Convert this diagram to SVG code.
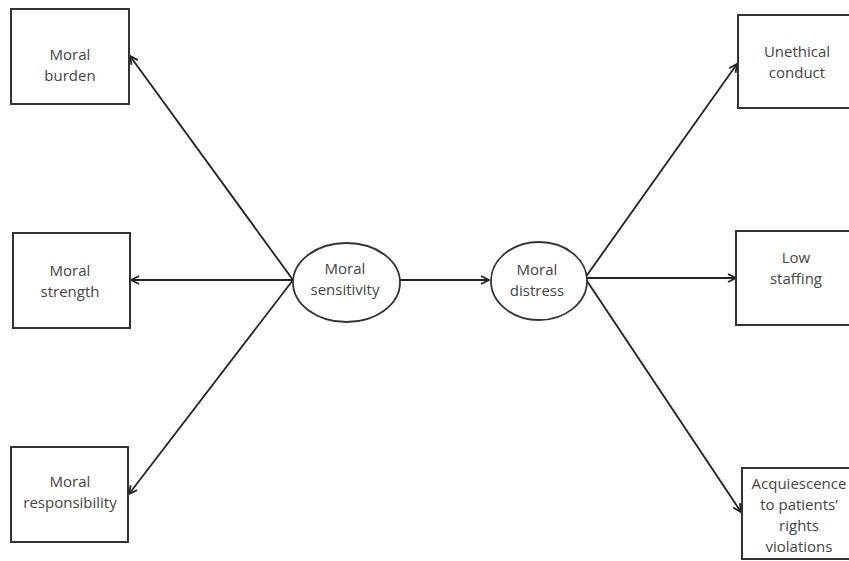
<svg xmlns="http://www.w3.org/2000/svg" width="849" height="561" viewBox="0 0 849 561">
<style>
.box{fill:#fff;stroke:#333;stroke-width:2}
.ell{fill:#fff;stroke:#333;stroke-width:1.8}
.t{font-family:"Open Sans","Liberation Sans",sans-serif;font-size:15px;fill:#444;text-anchor:middle}
.c{stroke:#222;stroke-width:1.8;fill:none;marker-end:url(#ah)}
</style>
<defs>
<marker id="ah" viewBox="0 0 10 10" refX="9" refY="5" markerWidth="10" markerHeight="10" markerUnits="userSpaceOnUse" orient="auto">
<path d="M1,1 L9,5 L1,9" fill="none" stroke="#222" stroke-width="1.8"/>
</marker>
</defs>
<rect width="849" height="561" fill="#fff"/>
<g id="connectors">
<line class="c" x1="293" y1="280" x2="130" y2="56"/>
<line class="c" x1="293" y1="280" x2="131" y2="280"/>
<line class="c" x1="293" y1="280" x2="129" y2="494"/>
<line class="c" x1="400" y1="280" x2="489" y2="280"/>
<line class="c" x1="585" y1="278" x2="737" y2="64"/>
<line class="c" x1="585" y1="278" x2="736" y2="278"/>
<line class="c" x1="585" y1="278" x2="741" y2="512"/>
</g>
<g id="moral-burden">
<rect class="box" x="11" y="9" width="118" height="95"/>
<text class="t" x="70" y="60">Moral</text>
<text class="t" x="70" y="81">burden</text>
</g>
<g id="moral-strength">
<rect class="box" x="13" y="233" width="117" height="95"/>
<text class="t" x="70" y="276">Moral</text>
<text class="t" x="70" y="297">strength</text>
</g>
<g id="moral-responsibility">
<rect class="box" x="11" y="447" width="117" height="95"/>
<text class="t" x="70" y="487">Moral</text>
<text class="t" x="70" y="508">responsibility</text>
</g>
<g id="moral-sensitivity">
<ellipse class="ell" cx="346.5" cy="282.5" rx="53.5" ry="39.5"/>
<text class="t" x="345" y="274">Moral</text>
<text class="t" x="345" y="295">sensitivity</text>
</g>
<g id="moral-distress">
<ellipse class="ell" cx="539" cy="281" rx="48" ry="39"/>
<text class="t" x="537" y="275">Moral</text>
<text class="t" x="537" y="296">distress</text>
</g>
<g id="unethical-conduct">
<rect class="box" x="738" y="15" width="120" height="93"/>
<text class="t" x="797" y="57">Unethical</text>
<text class="t" x="797" y="78">conduct</text>
</g>
<g id="low-staffing">
<rect class="box" x="736" y="231" width="120" height="94"/>
<text class="t" x="796" y="263">Low</text>
<text class="t" x="796" y="284">staffing</text>
</g>
<g id="acquiescence">
<rect class="box" x="742" y="468" width="120" height="91"/>
<text class="t" x="799" y="489">Acquiescence</text>
<text class="t" x="799" y="510">to patients’</text>
<text class="t" x="799" y="531">rights</text>
<text class="t" x="799" y="552">violations</text>
</g>
</svg>
